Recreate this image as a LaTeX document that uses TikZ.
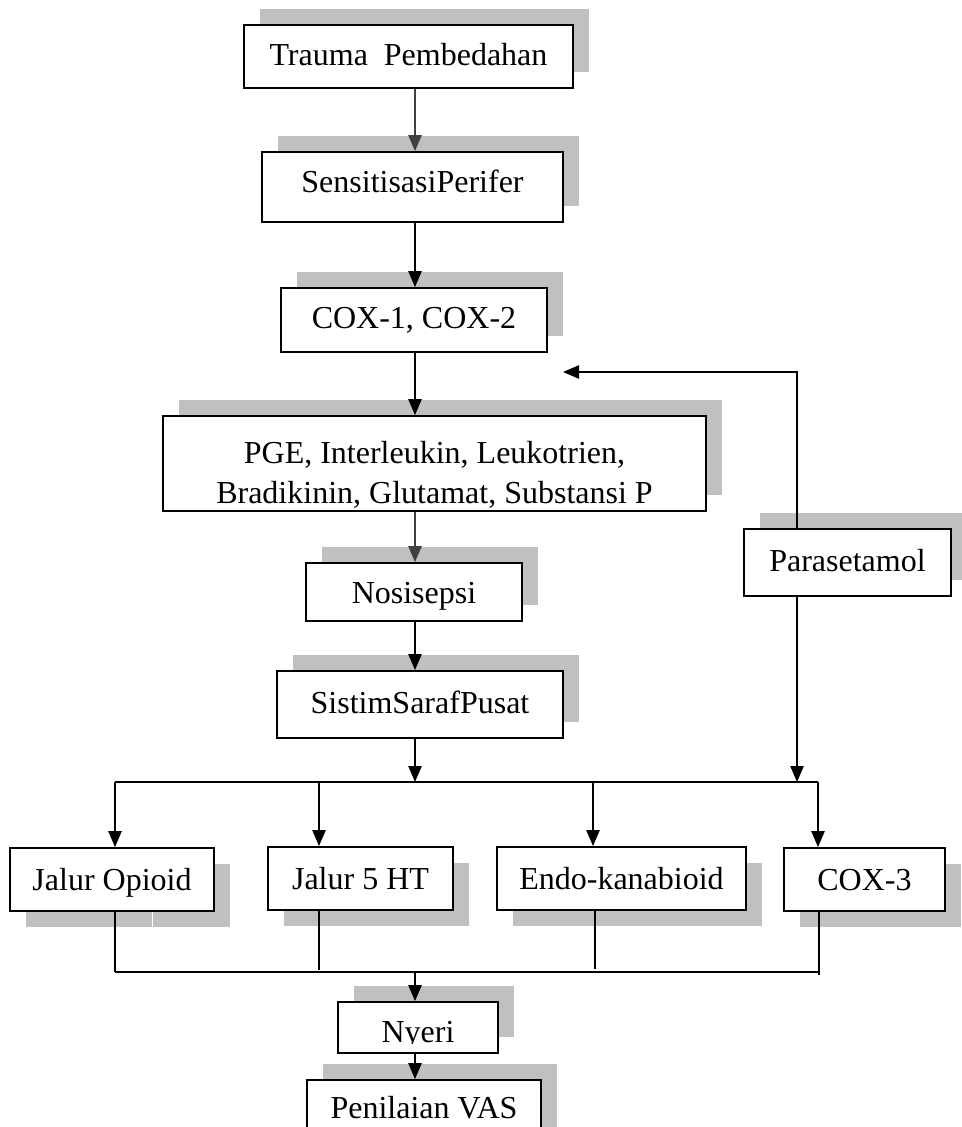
\documentclass[tikz,border=0pt]{standalone}
\usepackage{fontspec}
\setmainfont{Liberation Serif}
\usetikzlibrary{arrows.meta,shadows}
\definecolor{shadowgray}{RGB}{192,192,192}
\definecolor{darkarrow}{RGB}{64,64,64}
\begin{document}
\begin{tikzpicture}[x=0.75pt,y=-0.75pt,
  box/.style={draw=black, line width=1.4pt, fill=white, inner sep=0pt,
    font=\fontsize{24}{30}\selectfont, text height=17pt, text depth=4pt},
  lowtext/.style={text height=19pt, text depth=3pt},
  shUR/.style={general shadow={fill=shadowgray, shadow xshift=12pt, shadow yshift=12pt}},
  shDR/.style={general shadow={fill=shadowgray, shadow xshift=12pt, shadow yshift=-12pt}},
  conn/.style={line width=1.1pt, draw=black},
  arr/.style={conn, -{Triangle[length=12pt,width=10pt]}},
  darr/.style={arr, draw=darkarrow, fill=darkarrow},
]
\useasboundingbox (0,0) rectangle (961,1127);

% boxes
\node[box,shUR,minimum width=246.75pt,minimum height=47.25pt] (trauma) at (408.5,56.5) {Trauma\ \ Pembedahan};
\node[box,shUR,minimum width=225.75pt,minimum height=52.5pt,text height=15.5pt,text depth=8pt] (sens) at (412.5,187) {SensitisasiPerifer};
\node[box,shUR,minimum width=199.5pt,minimum height=48pt] (cox) at (414,320) {COX-1, COX-2};
\node[box,shUR,minimum width=407.25pt,minimum height=71.25pt,align=center,text height={},text depth={}] (pge) at (434.5,463.5) {\rule{0pt}{34pt}PGE, Interleukin, Leukotrien,\\Bradikinin, Glutamat, Substansi P};
\node[box,shUR,minimum width=162pt,minimum height=43.5pt,text height=20pt,text depth=3.5pt] (nosi) at (414,592) {Nosisepsi};
\node[box,shUR,minimum width=214.5pt,minimum height=50.25pt] (ssp) at (420,704.5) {SistimSarafPusat};
\node[box,shUR,minimum width=155.25pt,minimum height=50.25pt] (para) at (847.5,562.5) {Parasetamol};
\node[box,shDR,lowtext,minimum width=153pt,minimum height=47.25pt] (opioid) at (112,879.5) {Jalur Opioid};
\node[box,shDR,lowtext,minimum width=138.75pt,minimum height=47.25pt] (ht) at (360.5,878.5) {Jalur 5 HT};
\node[box,shDR,lowtext,minimum width=186.75pt,minimum height=47.25pt] (endo) at (621.5,878.5) {Endo-kanabioid};
\node[box,shDR,lowtext,minimum width=120.75pt,minimum height=47.25pt] (cox3) at (864.5,879.5) {COX-3};
\node[box,shUR,minimum width=120pt,minimum height=38.25pt,text height=24pt,text depth=2pt] (nyeri) at (418,1027.5) {Nyeri};
\node[box,shUR,minimum width=175.5pt,minimum height=49.5pt,text height=16pt,text depth=8.5pt] (vas) at (424,1113) {Penilaian VAS};

% clipped descender of "Nyeri" and gap in a shadow, as in the picture
\fill[white] (345,1044) rectangle (491,1051.5);
\draw[white, line width=0.75pt] (152,912) -- (152,928);

% helper coordinates
\coordinate (ax) at (415,0);
\coordinate (px) at (797,0);
\coordinate (fb) at (563,372);
\coordinate (uL) at (115,782);
\coordinate (u2) at (319,782);
\coordinate (u3) at (593,782);
\coordinate (uR) at (818,782);
\coordinate (uM) at (415,782);
\coordinate (lL) at (115,972);
\coordinate (l2) at (319,970);
\coordinate (l3) at (595,969);
\coordinate (l4) at (819,975);
\coordinate (lR) at (819,972);
\coordinate (lM) at (415,972);

% main chain
\draw[darr] (trauma.south -| ax) -- (sens.north -| ax);
\draw[arr] (sens.south -| ax) -- (cox.north -| ax);
\draw[arr] (cox.south -| ax) -- (pge.north -| ax);
\draw[darr] (pge.south -| ax) -- (nosi.north -| ax);
\draw[arr] (nosi.south -| ax) -- (ssp.north -| ax);
\draw[arr] (ssp.south -| ax) -- (uM);

% parasetamol
\draw[arr] (para.north -| px) |- (fb);
\draw[arr] (para.south -| px) -- (uR -| px);

% upper bus
\draw[conn] (uL) -- (uR);
\draw[arr] (uL) -- (uL |- opioid.north);
\draw[arr] (u2) -- (u2 |- ht.north);
\draw[arr] (u3) -- (u3 |- endo.north);
\draw[arr] (uR) -- (uR |- cox3.north);

% lower bus
\draw[conn] (lL) -- (lR);
\draw[conn] (opioid.south -| lL) -- (lL);
\draw[conn] (ht.south -| l2) -- (l2);
\draw[conn] (endo.south -| l3) -- (l3);
\draw[conn] (cox3.south -| l4) -- (l4);
\draw[arr] (lM) -- (nyeri.north -| ax);
\draw[arr] (nyeri.south -| ax) -- (vas.north -| ax);
\end{tikzpicture}
\end{document}
